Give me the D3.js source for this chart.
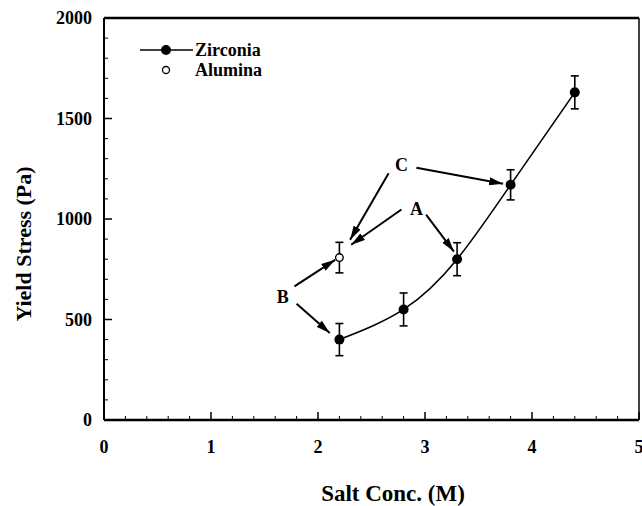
<!DOCTYPE html>
<html>
<head>
<meta charset="utf-8">
<script src="https://cdn.jsdelivr.net/npm/d3@7"></script>
<style>
  body { margin: 0; background: #fff; }
  text { font-family: "Liberation Serif", "Times New Roman", serif; font-weight: bold; fill: #000; }
</style>
</head>
<body>
<svg id="chart" width="642" height="506"></svg>
<script>
// data
var zrX   = [2.2, 2.8, 3.3, 3.8, 4.4];
var zrY   = [400, 550, 800, 1170, 1630];
var zrErr = [80, 82, 82, 75, 82];
var alX   = [2.2];
var alY   = [808];
var alErr = [76];
var xTicks = [0, 1, 2, 3, 4, 5];
var yTicks = [0, 500, 1000, 1500, 2000];

// annotation labels and arrows, in data units
var labels = [
  {t: "C", x: 2.78, y: 1270},
  {t: "A", x: 2.92, y: 1052},
  {t: "B", x: 1.67, y: 612}
];
var arrows = [
  [2.92, 1255, 3.73, 1175],
  [2.66, 1228, 2.30, 897],
  [2.78, 1047, 2.31, 872],
  [3.01, 1022, 3.27, 838],
  [1.78, 665, 2.16, 797],
  [1.80, 578, 2.11, 433]
];

var svg = d3.select("#chart");
var L = 104, R = 639, T = 18, B = 420;
var x = d3.scaleLinear().domain([0, 5]).range([L, R]);
var y = d3.scaleLinear().domain([0, 2000]).range([B, T]);

// ticks, pointing inward
var g = svg.append("g");
d3.range(0, 5.001, 0.2).forEach(function(v){
  var major = Math.abs(v - Math.round(v)) < 1e-6;
  g.append("line").attr("x1", x(v)).attr("x2", x(v))
    .attr("y1", B).attr("y2", B - (major ? 8 : 4))
    .attr("stroke", "#000").attr("stroke-width", major ? 1.5 : 1);
});
d3.range(0, 2000.1, 100).forEach(function(v){
  var major = v % 500 === 0;
  g.append("line").attr("x1", L).attr("x2", L + (major ? 8 : 4))
    .attr("y1", y(v)).attr("y2", y(v))
    .attr("stroke", "#000").attr("stroke-width", major ? 1.5 : 1);
});

// frame
svg.append("line").attr("x1", L).attr("x2", R).attr("y1", T).attr("y2", T).attr("stroke", "#000").attr("stroke-width", 2.5);
svg.append("line").attr("x1", L).attr("x2", R).attr("y1", B).attr("y2", B).attr("stroke", "#000").attr("stroke-width", 2.5);
svg.append("line").attr("x1", L).attr("x2", L).attr("y1", T).attr("y2", B).attr("stroke", "#000").attr("stroke-width", 2);
svg.append("line").attr("x1", R).attr("x2", R).attr("y1", T).attr("y2", B).attr("stroke", "#000").attr("stroke-width", 1.5);

// tick labels
svg.selectAll(".xl").data(xTicks).enter().append("text")
  .attr("x", function(d){ return x(d); }).attr("y", 453)
  .attr("text-anchor", "middle").style("font-size", "18px")
  .text(function(d){ return d; });
svg.selectAll(".yl").data(yTicks).enter().append("text")
  .attr("x", 92).attr("y", function(d){ return y(d) + 6; })
  .attr("text-anchor", "end").style("font-size", "18px")
  .text(function(d){ return d; });

// axis titles
svg.append("text").attr("x", 393).attr("y", 501).attr("text-anchor", "middle")
  .style("font-size", "23px").text("Salt Conc. (M)");
svg.append("text").attr("transform", "translate(31,244) rotate(-90)")
  .attr("text-anchor", "middle").style("font-size", "22px").text("Yield Stress (Pa)");

// fitted curve
var pts = zrX.map(function(d, i){ return [d, zrY[i]]; });
svg.append("path").datum(pts)
  .attr("d", d3.line().x(function(d){ return x(d[0]); }).y(function(d){ return y(d[1]); }).curve(d3.curveNatural))
  .attr("fill", "none").attr("stroke", "#000").attr("stroke-width", 1.6);

function errBars(xs, ys, es){
  xs.forEach(function(v, i){
    var cx = x(v);
    svg.append("line").attr("x1", cx).attr("x2", cx).attr("y1", y(ys[i] + es[i])).attr("y2", y(ys[i] - es[i]))
      .attr("stroke", "#000").attr("stroke-width", 1.6);
    [ys[i] + es[i], ys[i] - es[i]].forEach(function(e){
      svg.append("line").attr("x1", cx - 4).attr("x2", cx + 4).attr("y1", y(e)).attr("y2", y(e))
        .attr("stroke", "#000").attr("stroke-width", 1.6);
    });
  });
}
errBars(zrX, zrY, zrErr);
errBars(alX, alY, alErr);

svg.selectAll(".zr").data(pts).enter().append("circle")
  .attr("cx", function(d){ return x(d[0]); }).attr("cy", function(d){ return y(d[1]); })
  .attr("r", 5).attr("fill", "#000");
svg.selectAll(".al").data(alX).enter().append("circle")
  .attr("cx", function(d){ return x(d); }).attr("cy", function(d, i){ return y(alY[i]); })
  .attr("r", 3.8).attr("fill", "#fff").attr("stroke", "#000").attr("stroke-width", 1.4);

// arrows
svg.append("defs").append("marker").attr("id", "ah")
  .attr("viewBox", "0 0 14 8").attr("refX", 14).attr("refY", 4)
  .attr("markerWidth", 14).attr("markerHeight", 8).attr("markerUnits", "userSpaceOnUse")
  .attr("orient", "auto")
  .append("path").attr("d", "M0,0 L14,4 L0,8 Z").attr("fill", "#000");
arrows.forEach(function(a){
  svg.append("line").attr("x1", x(a[0])).attr("y1", y(a[1])).attr("x2", x(a[2])).attr("y2", y(a[3]))
    .attr("stroke", "#000").attr("stroke-width", 2).attr("marker-end", "url(#ah)");
});
labels.forEach(function(l){
  svg.append("text").attr("x", x(l.x)).attr("y", y(l.y) + 6).attr("text-anchor", "middle")
    .style("font-size", "18px").text(l.t);
});

// legend
svg.append("line").attr("x1", 140).attr("x2", 193).attr("y1", 50).attr("y2", 50).attr("stroke", "#000").attr("stroke-width", 1.3);
svg.append("circle").attr("cx", 166).attr("cy", 50).attr("r", 5).attr("fill", "#000");
svg.append("circle").attr("cx", 166).attr("cy", 70).attr("r", 3.5).attr("fill", "#fff").attr("stroke", "#000").attr("stroke-width", 1.3);
svg.append("text").attr("x", 195).attr("y", 56).style("font-size", "18px").text("Zirconia");
svg.append("text").attr("x", 195).attr("y", 76).style("font-size", "18px").text("Alumina");
</script>
</body>
</html>
